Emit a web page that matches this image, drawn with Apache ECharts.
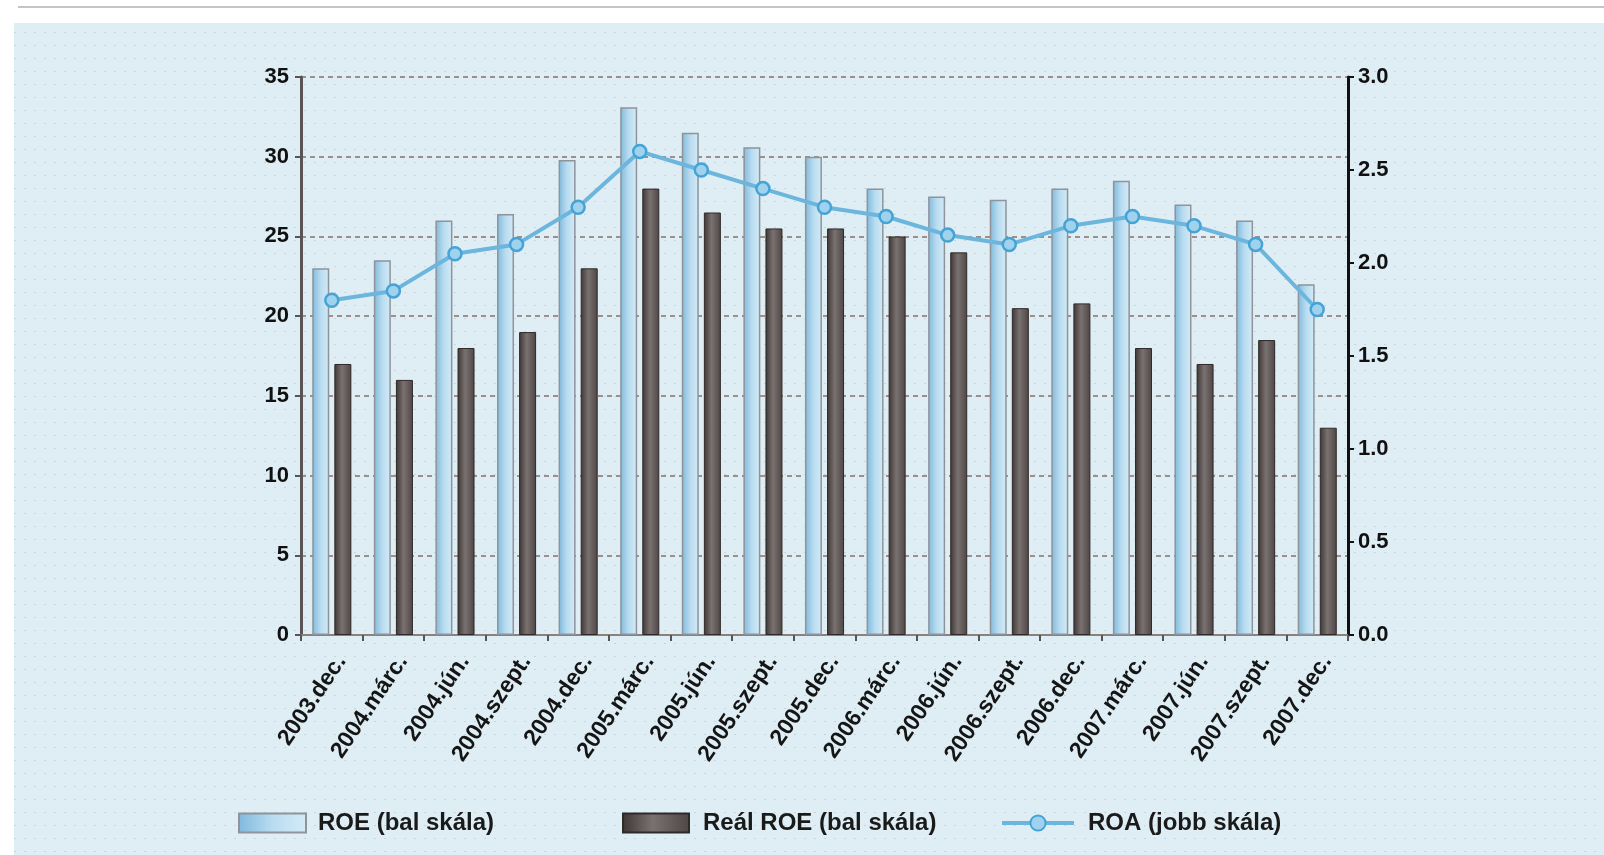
<!DOCTYPE html>
<html>
<head>
<meta charset="utf-8">
<script src="https://cdn.jsdelivr.net/npm/echarts@6/dist/echarts.min.js"></script>
<style>
html,body{margin:0;padding:0;background:#fff;}
#chart{width:1604px;height:855px;}
</style>
</head>
<body>
<div id="chart"></div>
<script>
const categories = ['2003.dec.','2004.márc.','2004.jún.','2004.szept.','2004.dec.','2005.márc.','2005.jún.','2005.szept.','2005.dec.','2006.márc.','2006.jún.','2006.szept.','2006.dec.','2007.márc.','2007.jún.','2007.szept.','2007.dec.'];
const roe = [23, 23.5, 26, 26.4, 29.8, 33.1, 31.5, 30.6, 30, 28, 27.5, 27.3, 28, 28.5, 27, 26, 22];
const realRoe = [17, 16, 18, 19, 23, 28, 26.5, 25.5, 25.5, 25, 24, 20.5, 20.8, 18, 17, 18.5, 13];
const roa = [1.8, 1.85, 2.05, 2.1, 2.3, 2.6, 2.5, 2.4, 2.3, 2.25, 2.15, 2.1, 2.2, 2.25, 2.2, 2.1, 1.75];
const leftTicks = {min: 0, max: 35, interval: 5};
const rightTicks = {min: 0, max: 3, interval: 0.5};
const seriesNames = ['ROE (bal skála)', 'Reál ROE (bal skála)', 'ROA (jobb skála)'];

// dotted background pattern
const pc = document.createElement('canvas');
pc.width = 10; pc.height = 13;
const pctx = pc.getContext('2d');
pctx.fillStyle = '#dfeef5';
pctx.fillRect(0, 0, 10, 13);
pctx.fillStyle = '#c6d4db';
pctx.fillRect(4, 6, 2, 1);

const FONT = '"Liberation Sans", Arial, Helvetica, sans-serif';

const roeFill = {type:'linear', x:0, y:0, x2:1, y2:0, colorStops:[
  {offset:0, color:'#7fb9dc'}, {offset:0.5, color:'#b9dcf0'}, {offset:1, color:'#d4ebf7'}]};
const realFill = {type:'linear', x:0, y:0, x2:1, y2:0, colorStops:[
  {offset:0, color:'#3e3634'}, {offset:0.45, color:'#7a7270'}, {offset:1, color:'#4e4644'}]};

const legendText = {fontFamily: FONT, fontSize: 24, fontWeight: 'bold', color: '#1a1a1a'};

const chart = echarts.init(document.getElementById('chart'), null, {renderer:'canvas'});
chart.setOption({
  animation: false,
  backgroundColor: '#ffffff',
  graphic: [
    {type:'line', z:-10, shape:{x1:18, y1:7, x2:1604, y2:7}, style:{stroke:'#c4c4c4', lineWidth:2}},
    {type:'rect', z:-10, shape:{x:14, y:23, width:1590, height:832}, style:{fill:'#dfeef5'}},
    {type:'rect', z:-9, shape:{x:14, y:23, width:1590, height:832}, style:{fill:{image: pc, repeat:'repeat'}}}
  ],
  grid: {left: 301, right: 256, top: 77, bottom: 220, containLabel: false},
  legend: [
    {data:[{name: seriesNames[0], icon: 'rect'}], left: 233, top: 806, itemWidth: 67, itemHeight: 19,
     textStyle: Object.assign({padding:[0,0,0,7]}, legendText)},
    {data:[{name: seriesNames[1], icon: 'rect'}], left: 617, top: 806, itemWidth: 66, itemHeight: 19,
     textStyle: Object.assign({padding:[0,0,0,9]}, legendText)},
    {data:[{name: seriesNames[2], lineStyle: {width: 4, color: '#6cb6de'}}], left: 995, top: 806, itemWidth: 72, itemHeight: 19,
     textStyle: Object.assign({padding:[0,0,0,9]}, legendText)}
  ],
  xAxis: {
    type: 'category',
    data: categories,
    boundaryGap: true,
    axisLine: {show: true, lineStyle: {color: '#8a807d', width: 2}},
    axisTick: {show: true, length: 6, lineStyle: {color: '#555', width: 2}},
    axisLabel: {interval: 0, rotate: 56, margin: 16, align: 'right', verticalAlign: 'top',
      fontFamily: FONT, fontSize: 23, fontWeight: 'bold', color: '#151515'},
    splitLine: {show: false}
  },
  yAxis: [
    {
      type: 'value', position: 'left', min: leftTicks.min, max: leftTicks.max, interval: leftTicks.interval,
      axisLine: {show: true, lineStyle: {color: '#5a5554', width: 3}},
      axisTick: {show: true, length: 6, lineStyle: {color: '#5a5554', width: 2}},
      axisLabel: {margin: 12, fontFamily: FONT, fontSize: 22, fontWeight: 'bold', color: '#111'},
      splitLine: {show: true, lineStyle: {color: '#9e8f8a', width: 2, type: [5, 4]}}
    },
    {
      type: 'value', position: 'right', min: rightTicks.min, max: rightTicks.max, interval: rightTicks.interval,
      axisLine: {show: true, lineStyle: {color: '#111', width: 3}},
      axisTick: {show: true, length: 6, lineStyle: {color: '#111', width: 2}},
      axisLabel: {margin: 10, fontFamily: FONT, fontSize: 22, fontWeight: 'bold', color: '#111', formatter: v => v.toFixed(1)},
      splitLine: {show: false}
    }
  ],
  series: [
    {
      name: seriesNames[0], type: 'bar', yAxisIndex: 0, data: roe,
      barWidth: 17, barGap: '30%',
      itemStyle: {color: roeFill, borderColor: '#8e949a', borderWidth: 1.5}
    },
    {
      name: seriesNames[1], type: 'bar', yAxisIndex: 0, data: realRoe,
      barWidth: 17, barGap: '30%',
      itemStyle: {color: realFill, borderColor: '#2f2927', borderWidth: 1}
    },
    {
      name: seriesNames[2], type: 'line', yAxisIndex: 1, data: roa,
      symbol: 'circle', symbolSize: 13,
      lineStyle: {color: '#6cb6de', width: 4},
      itemStyle: {color: '#9fd2ec', borderColor: '#45a3d6', borderWidth: 2.5},
      z: 5
    }
  ]
});
</script>
</body>
</html>
